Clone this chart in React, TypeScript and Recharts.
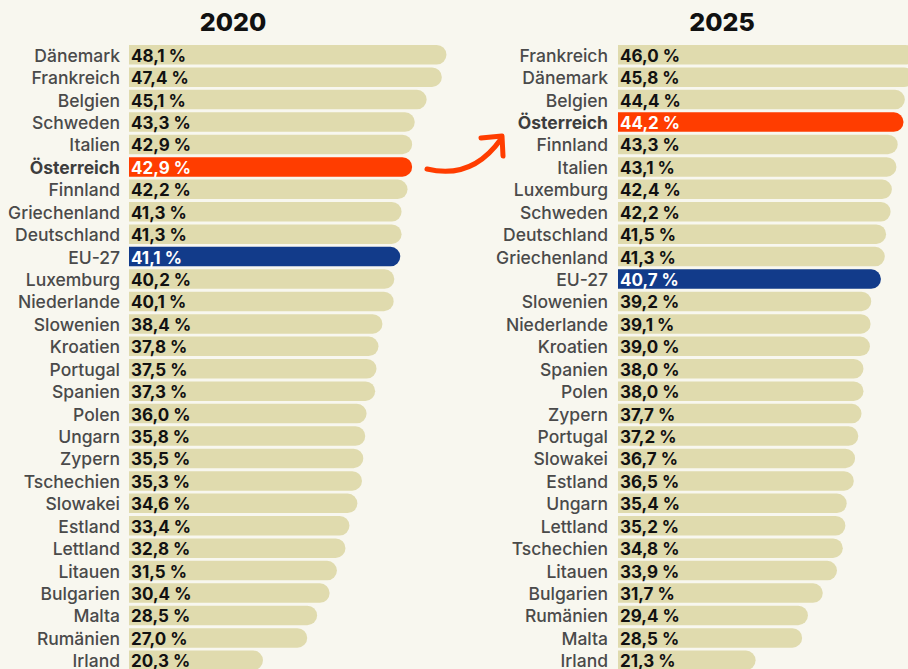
import React from "react";
import { BarChart, Bar, XAxis, YAxis, Cell, LabelList } from "recharts";

// 2020
const countries2020 = [
  "Dänemark", "Frankreich", "Belgien", "Schweden", "Italien", "Österreich",
  "Finnland", "Griechenland", "Deutschland", "EU-27", "Luxemburg", "Niederlande",
  "Slowenien", "Kroatien", "Portugal", "Spanien", "Polen", "Ungarn", "Zypern",
  "Tschechien", "Slowakei", "Estland", "Lettland", "Litauen", "Bulgarien",
  "Malta", "Rumänien", "Irland",
];
const values2020 = [
  48.1, 47.4, 45.1, 43.3, 42.9, 42.9, 42.2, 41.3, 41.3, 41.1, 40.2, 40.1,
  38.4, 37.8, 37.5, 37.3, 36.0, 35.8, 35.5, 35.3, 34.6, 33.4, 32.8, 31.5,
  30.4, 28.5, 27.0, 20.3,
];

// 2025
const countries2025 = [
  "Frankreich", "Dänemark", "Belgien", "Österreich", "Finnland", "Italien",
  "Luxemburg", "Schweden", "Deutschland", "Griechenland", "EU-27", "Slowenien",
  "Niederlande", "Kroatien", "Spanien", "Polen", "Zypern", "Portugal",
  "Slowakei", "Estland", "Ungarn", "Lettland", "Tschechien", "Litauen",
  "Bulgarien", "Rumänien", "Malta", "Irland",
];
const values2025 = [
  46.0, 45.8, 44.4, 44.2, 43.3, 43.1, 42.4, 42.2, 41.5, 41.3, 40.7, 39.2,
  39.1, 39.0, 38.0, 38.0, 37.7, 37.2, 36.7, 36.5, 35.4, 35.2, 34.8, 33.9,
  31.7, 29.4, 28.5, 21.3,
];

const BG = "#f8f7ef";
const BEIGE = "#e0dbae";
const ORANGE = "#ff3d00";
const BLUE = "#123b8a";
const FONT = "Inter, 'Noto Sans', sans-serif";

const fillFor = (name: string) =>
  name === "Österreich" ? ORANGE : name === "EU-27" ? BLUE : BEIGE;

const fmt = (v: number) => v.toFixed(1).replace(".", ",") + " %";

const CountryTick = (props: any) => {
  const { x, y, payload } = props;
  const bold = payload.value === "Österreich";
  return (
    <text
      x={x}
      y={y}
      textAnchor="end"
      dominantBaseline="central"
      fill={bold ? "#3d3d3d" : "#4a4a4a"}
      fontFamily={FONT}
      fontSize={17.5}
      fontWeight={bold ? 700 : 500}
    >
      {payload.value}
    </text>
  );
};

const makeValueLabel = (names: string[]) => (props: any) => {
  const { x, y, height, value, index } = props;
  const name = names[index];
  const white = name === "Österreich" || name === "EU-27";
  return (
    <text
      x={x + 2}
      y={y + height / 2 + 1}
      dominantBaseline="central"
      fill={white ? "#ffffff" : "#111111"}
      fontFamily={FONT}
      fontSize={17}
      fontWeight={700}
    >
      {fmt(value)}
    </text>
  );
};

interface PanelProps {
  names: string[];
  values: number[];
  left: number;
  axisWidth: number;
  plotWidth: number;
  tickMargin: number;
}

const Panel: React.FC<PanelProps> = ({ names, values, left, axisWidth, plotWidth, tickMargin }) => {
  const data = names.map((name, i) => ({ name, value: values[i] }));
  return (
    <div style={{ position: "absolute", left, top: 0 }}>
      <BarChart
        width={axisWidth + plotWidth}
        height={672}
        data={data}
        layout="vertical"
        margin={{ top: 44, right: 0, bottom: 0, left: 0 }}
        barSize={19.5}
      >
        <XAxis type="number" domain={[0, 50]} hide />
        <YAxis
          type="category"
          dataKey="name"
          width={axisWidth}
          axisLine={false}
          tickLine={false}
          tickSize={0}
          tickMargin={tickMargin}
          interval={0}
          tick={<CountryTick />}
        />
        <Bar dataKey="value" radius={[0, 10, 10, 0]} isAnimationActive={false}>
          {data.map((d) => (
            <Cell key={d.name} fill={fillFor(d.name)} />
          ))}
          <LabelList dataKey="value" content={makeValueLabel(names)} />
        </Bar>
      </BarChart>
    </div>
  );
};

export default function App() {
  return (
    <div
      style={{
        position: "absolute",
        left: 0,
        top: 0,
        width: 908,
        height: 669,
        overflow: "hidden",
        background: BG,
        fontFamily: FONT,
      }}
    >
      <Panel names={countries2020} values={values2020} left={0} axisWidth={129} plotWidth={330} tickMargin={9} />
      <Panel names={countries2025} values={values2025} left={460} axisWidth={158} plotWidth={323} tickMargin={10} />
      <svg width={908} height={669} style={{ position: "absolute", left: 0, top: 0, pointerEvents: "none" }}>
        <text x={233} y={31} textAnchor="middle" fontFamily={FONT} fontWeight={800} fontSize={25} fill="#111">
          2020
        </text>
        <text x={722} y={31} textAnchor="middle" fontFamily={FONT} fontWeight={800} fontSize={25} fill="#111">
          2025
        </text>
        <path
          d="M427,169 Q472,180 501,139"
          fill="none"
          stroke={ORANGE}
          strokeWidth={5}
          strokeLinecap="round"
        />
        <path
          d="M481,138 L502,136 L503,156"
          fill="none"
          stroke={ORANGE}
          strokeWidth={5}
          strokeLinecap="round"
          strokeLinejoin="round"
        />
      </svg>
    </div>
  );
}
